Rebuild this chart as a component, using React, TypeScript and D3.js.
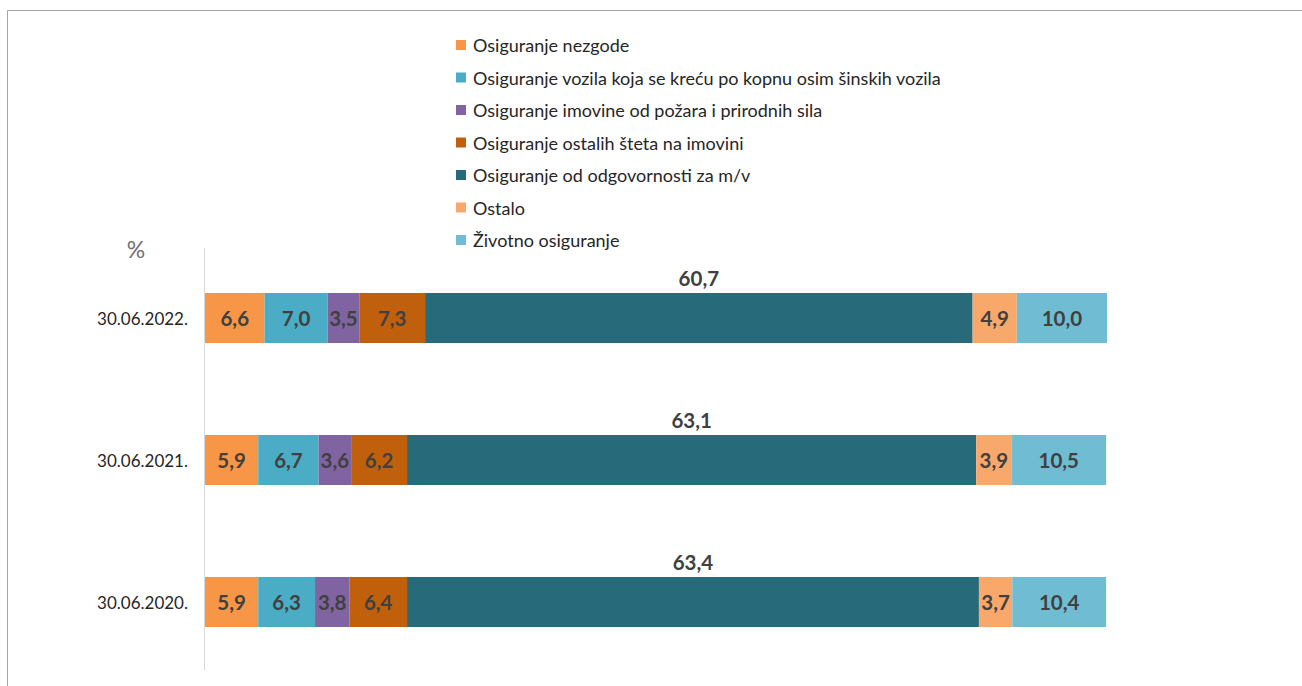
import React from "react";
import * as d3 from "d3";

const categories = ["30.06.2022.", "30.06.2021.", "30.06.2020."];
const seriesNames = [
  "Osiguranje nezgode",
  "Osiguranje vozila koja se kreću po kopnu osim šinskih vozila",
  "Osiguranje imovine od požara i prirodnih sila",
  "Osiguranje ostalih šteta na imovini",
  "Osiguranje od odgovornosti za m/v",
  "Ostalo",
  "Životno osiguranje",
];
const nezgode = [6.6, 5.9, 5.9];
const vozila = [7.0, 6.7, 6.3];
const imovina = [3.5, 3.6, 3.8];
const ostaleStete = [7.3, 6.2, 6.4];
const odgovornost = [60.7, 63.1, 63.4];
const ostalo = [4.9, 3.9, 3.7];
const zivotno = [10.0, 10.5, 10.4];
const seriesValues = [nezgode, vozila, imovina, ostaleStete, odgovornost, ostalo, zivotno];
const colors = ["#F79646", "#4BACC6", "#8064A2", "#C0600C", "#276A7A", "#F9A86B", "#6FBCD3"];
const unitLabel = "%";

const FONT = "Lato, 'Open Sans', sans-serif";

export default function App() {
  const W = 1302, H = 686;
  const x = d3.scaleLinear().domain([0, 100]).range([205, 1107]);
  const y = d3.scalePoint<string>().domain(categories).range([318, 602]);
  const barH = 50;
  const fmt = (v: number) => v.toFixed(1).replace(".", ",");

  const rows = categories.map((c, ci) => {
    const vals = seriesValues.map((s) => s[ci]);
    const stack = d3.cumsum(vals);
    return vals.map((v, si) => ({ si, v, x0: stack[si] - v, x1: stack[si] }));
  });

  const legendY = d3.scalePoint<string>().domain(seriesNames).range([45, 240]);

  return (
    <div style={{ position: "absolute", left: 0, top: 0 }}>
      <svg width={W} height={H} style={{ display: "block", background: "#fff" }}>
        <path d={`M7.5,${H} V10.5 H${W}`} fill="none" stroke="#a6a6a6" strokeWidth={1} />
        <line x1={204.5} x2={204.5} y1={248} y2={670} stroke="#d9d9d9" strokeWidth={1} />
        <text x={136} y={249} fontFamily={FONT} fontSize={23} fill="#6f6f6f" textAnchor="middle" dominantBaseline="central">
          {unitLabel}
        </text>
        {seriesNames.map((n, i) => (
          <g key={n} transform={`translate(0,${legendY(n)})`}>
            <rect x={456} y={-5} width={10} height={10} fill={colors[i]} />
            <text x={473} y={0} dominantBaseline="central" fontFamily={FONT} fontSize={18} fill="#262626">
              {n}
            </text>
          </g>
        ))}
        {categories.map((c, ci) => {
          const cy = y(c)!;
          return (
            <g key={c}>
              <text x={188} y={cy} textAnchor="end" dominantBaseline="central" fontFamily={FONT} fontSize={17} fill="#262626">
                {c}
              </text>
              {rows[ci].map((seg) => (
                <rect
                  key={seg.si}
                  x={x(seg.x0)}
                  y={cy - barH / 2}
                  width={x(seg.x1) - x(seg.x0)}
                  height={barH}
                  fill={colors[seg.si]}
                />
              ))}
              {rows[ci].map((seg) => {
                const cx = (x(seg.x0) + x(seg.x1)) / 2;
                const above = seg.si === 4;
                return (
                  <text
                    key={"l" + seg.si}
                    x={cx}
                    y={above ? cy - barH / 2 - 15 : cy}
                    textAnchor="middle"
                    dominantBaseline="central"
                    fontFamily={FONT}
                    fontWeight="bold"
                    fontSize={20.5}
                    fill="#404040"
                  >
                    {fmt(seg.v)}
                  </text>
                );
              })}
            </g>
          );
        })}
      </svg>
    </div>
  );
}
